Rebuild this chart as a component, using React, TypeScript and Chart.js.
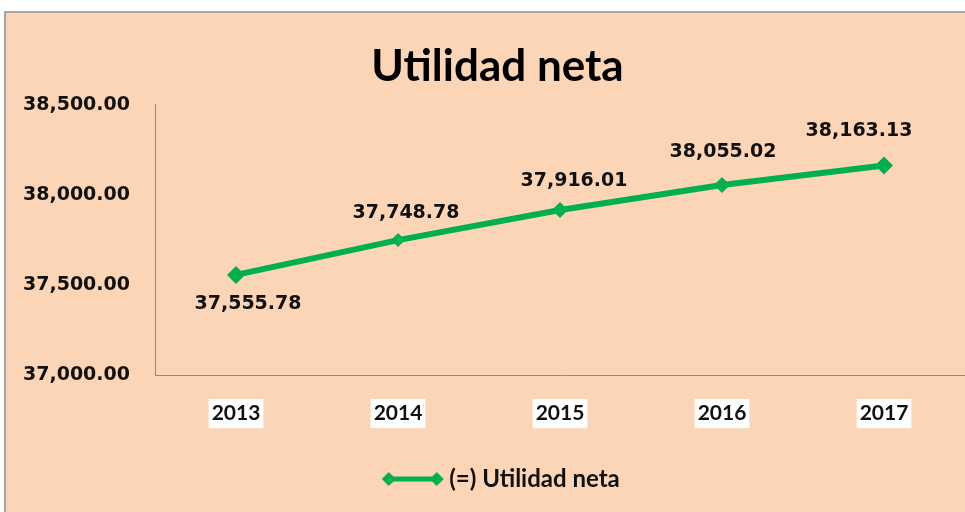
import React, { useEffect, useRef } from 'react';
import { Chart, registerables } from 'chart.js';

Chart.register(...registerables);

// ---- data ----
const chartTitle = 'Utilidad neta';
const seriesLabel = '(=) Utilidad neta';
const years = ['2013', '2014', '2015', '2016', '2017'];
const utilidadNeta = [37555.78, 37748.78, 37916.01, 38055.02, 38163.13];
const yMin = 37000;
const yMax = 38500;
const yStep = 500;

// ---- style ----
const GREEN = '#00B050';
const PEACH = '#FBD5B5';
const TEXT = '#111111';
const labelOffsets: number[][] = [[12, 29], [8, -27], [14, -29], [1, -33], [-25, -34]];

const fmt = (v: number) =>
  v.toLocaleString('en-US', { minimumFractionDigits: 2, maximumFractionDigits: 2 });

const dataLabelsPlugin = {
  id: 'dataLabels',
  afterDatasetsDraw(chart: any) {
    const ctx = chart.ctx;
    const meta = chart.getDatasetMeta(0);
    const data = chart.data.datasets[0].data as number[];
    ctx.save();
    ctx.font = 'bold 19px "DejaVu Sans"';
    ctx.fillStyle = TEXT;
    ctx.textAlign = 'center';
    ctx.textBaseline = 'middle';
    meta.data.forEach((pt: any, i: number) => {
      const off = labelOffsets[i] || [0, -30];
      ctx.fillText(fmt(data[i]), pt.x + off[0], pt.y + off[1]);
    });
    ctx.restore();
  },
};

function makeLegendImage(): HTMLCanvasElement {
  const c = document.createElement('canvas');
  c.width = 79;
  c.height = 18;
  const g = c.getContext('2d')!;
  const y = 9;
  g.strokeStyle = GREEN;
  g.lineWidth = 5;
  g.beginPath();
  g.moveTo(20, y);
  g.lineTo(72, y);
  g.stroke();
  g.fillStyle = GREEN;
  const diamond = (x: number) => {
    const r = 7;
    g.beginPath();
    g.moveTo(x, y - r);
    g.lineTo(x + r, y);
    g.lineTo(x, y + r);
    g.lineTo(x - r, y);
    g.closePath();
    g.fill();
  };
  diamond(22);
  diamond(70);
  return c;
}

export default function App() {
  const ref = useRef<HTMLCanvasElement>(null);

  useEffect(() => {
    if (!ref.current) return;
    const legendImg = makeLegendImage();
    const chart = new Chart(ref.current, {
      type: 'line',
      data: {
        labels: years,
        datasets: [
          {
            label: seriesLabel,
            data: utilidadNeta,
            borderColor: GREEN,
            backgroundColor: GREEN,
            borderWidth: 6,
            pointStyle: 'rectRot',
            pointRadius: [9, 7, 8, 8, 9],
            pointBackgroundColor: GREEN,
            pointBorderWidth: 0,
            tension: 0,
          },
        ],
      },
      options: {
        responsive: false,
        animation: false,
        devicePixelRatio: 1,
        layout: { padding: { left: 0, right: 0, top: 0, bottom: 11 } },
        plugins: {
          title: {
            display: true,
            text: chartTitle,
            color: '#000',
            font: { family: 'Lato', size: 44, weight: 'bold' },
            padding: { top: 40, bottom: 12 },
          },
          legend: {
            display: true,
            position: 'bottom',
            labels: {
              usePointStyle: true,
              pointStyle: legendImg as any,
              pointStyleWidth: 62,
              color: TEXT,
              font: { family: 'Lato', size: 24, weight: 'bold' },
              padding: 10,
            },
          },
          tooltip: { enabled: false },
        },
        scales: {
          x: {
            type: 'category',
            offset: true,
            grid: { display: false, drawTicks: false },
            border: { display: true, color: '#8c8c8c', width: 1 },
            ticks: {
              color: TEXT,
              font: { family: 'Lato', size: 21, weight: 'bold' },
              padding: 26,
              showLabelBackdrop: true,
              backdropColor: '#ffffff',
              backdropPadding: { x: 3, y: 2 },
              maxRotation: 0,
            } as any,
            afterFit: (scale: any) => {
              scale.height = 82;
            },
          },
          y: {
            min: yMin,
            max: yMax,
            grid: { display: false, drawTicks: false },
            border: { display: true, color: '#8c8c8c', width: 1 },
            ticks: {
              stepSize: yStep,
              color: TEXT,
              font: { family: 'DejaVu Sans', size: 19, weight: 'bold' },
              padding: 25,
              callback: (v: any) => fmt(Number(v)),
            },
            afterFit: (scale: any) => {
              scale.width = 155;
            },
          },
          yRight: {
            type: 'linear',
            position: 'right',
            display: true,
            grid: { display: false, drawTicks: false },
            border: { display: false },
            ticks: { display: false },
            afterFit: (scale: any) => {
              scale.width = 30;
            },
          },
        },
      },
      plugins: [dataLabelsPlugin],
    });
    return () => chart.destroy();
  }, []);

  return (
    <div style={{ position: 'fixed', left: 0, top: 0, width: 965, height: 512, background: '#ffffff', overflow: 'hidden' }}>
      <div
        style={{
          position: 'absolute',
          left: 4,
          top: 11,
          width: 1000,
          height: 600,
          background: PEACH,
          borderLeft: '2px solid #a6a6a6',
          borderTop: '2px solid #a6a6a6',
        }}
      />
      <canvas ref={ref} width={995} height={512} style={{ position: 'absolute', left: 0, top: 0 }} />
    </div>
  );
}
